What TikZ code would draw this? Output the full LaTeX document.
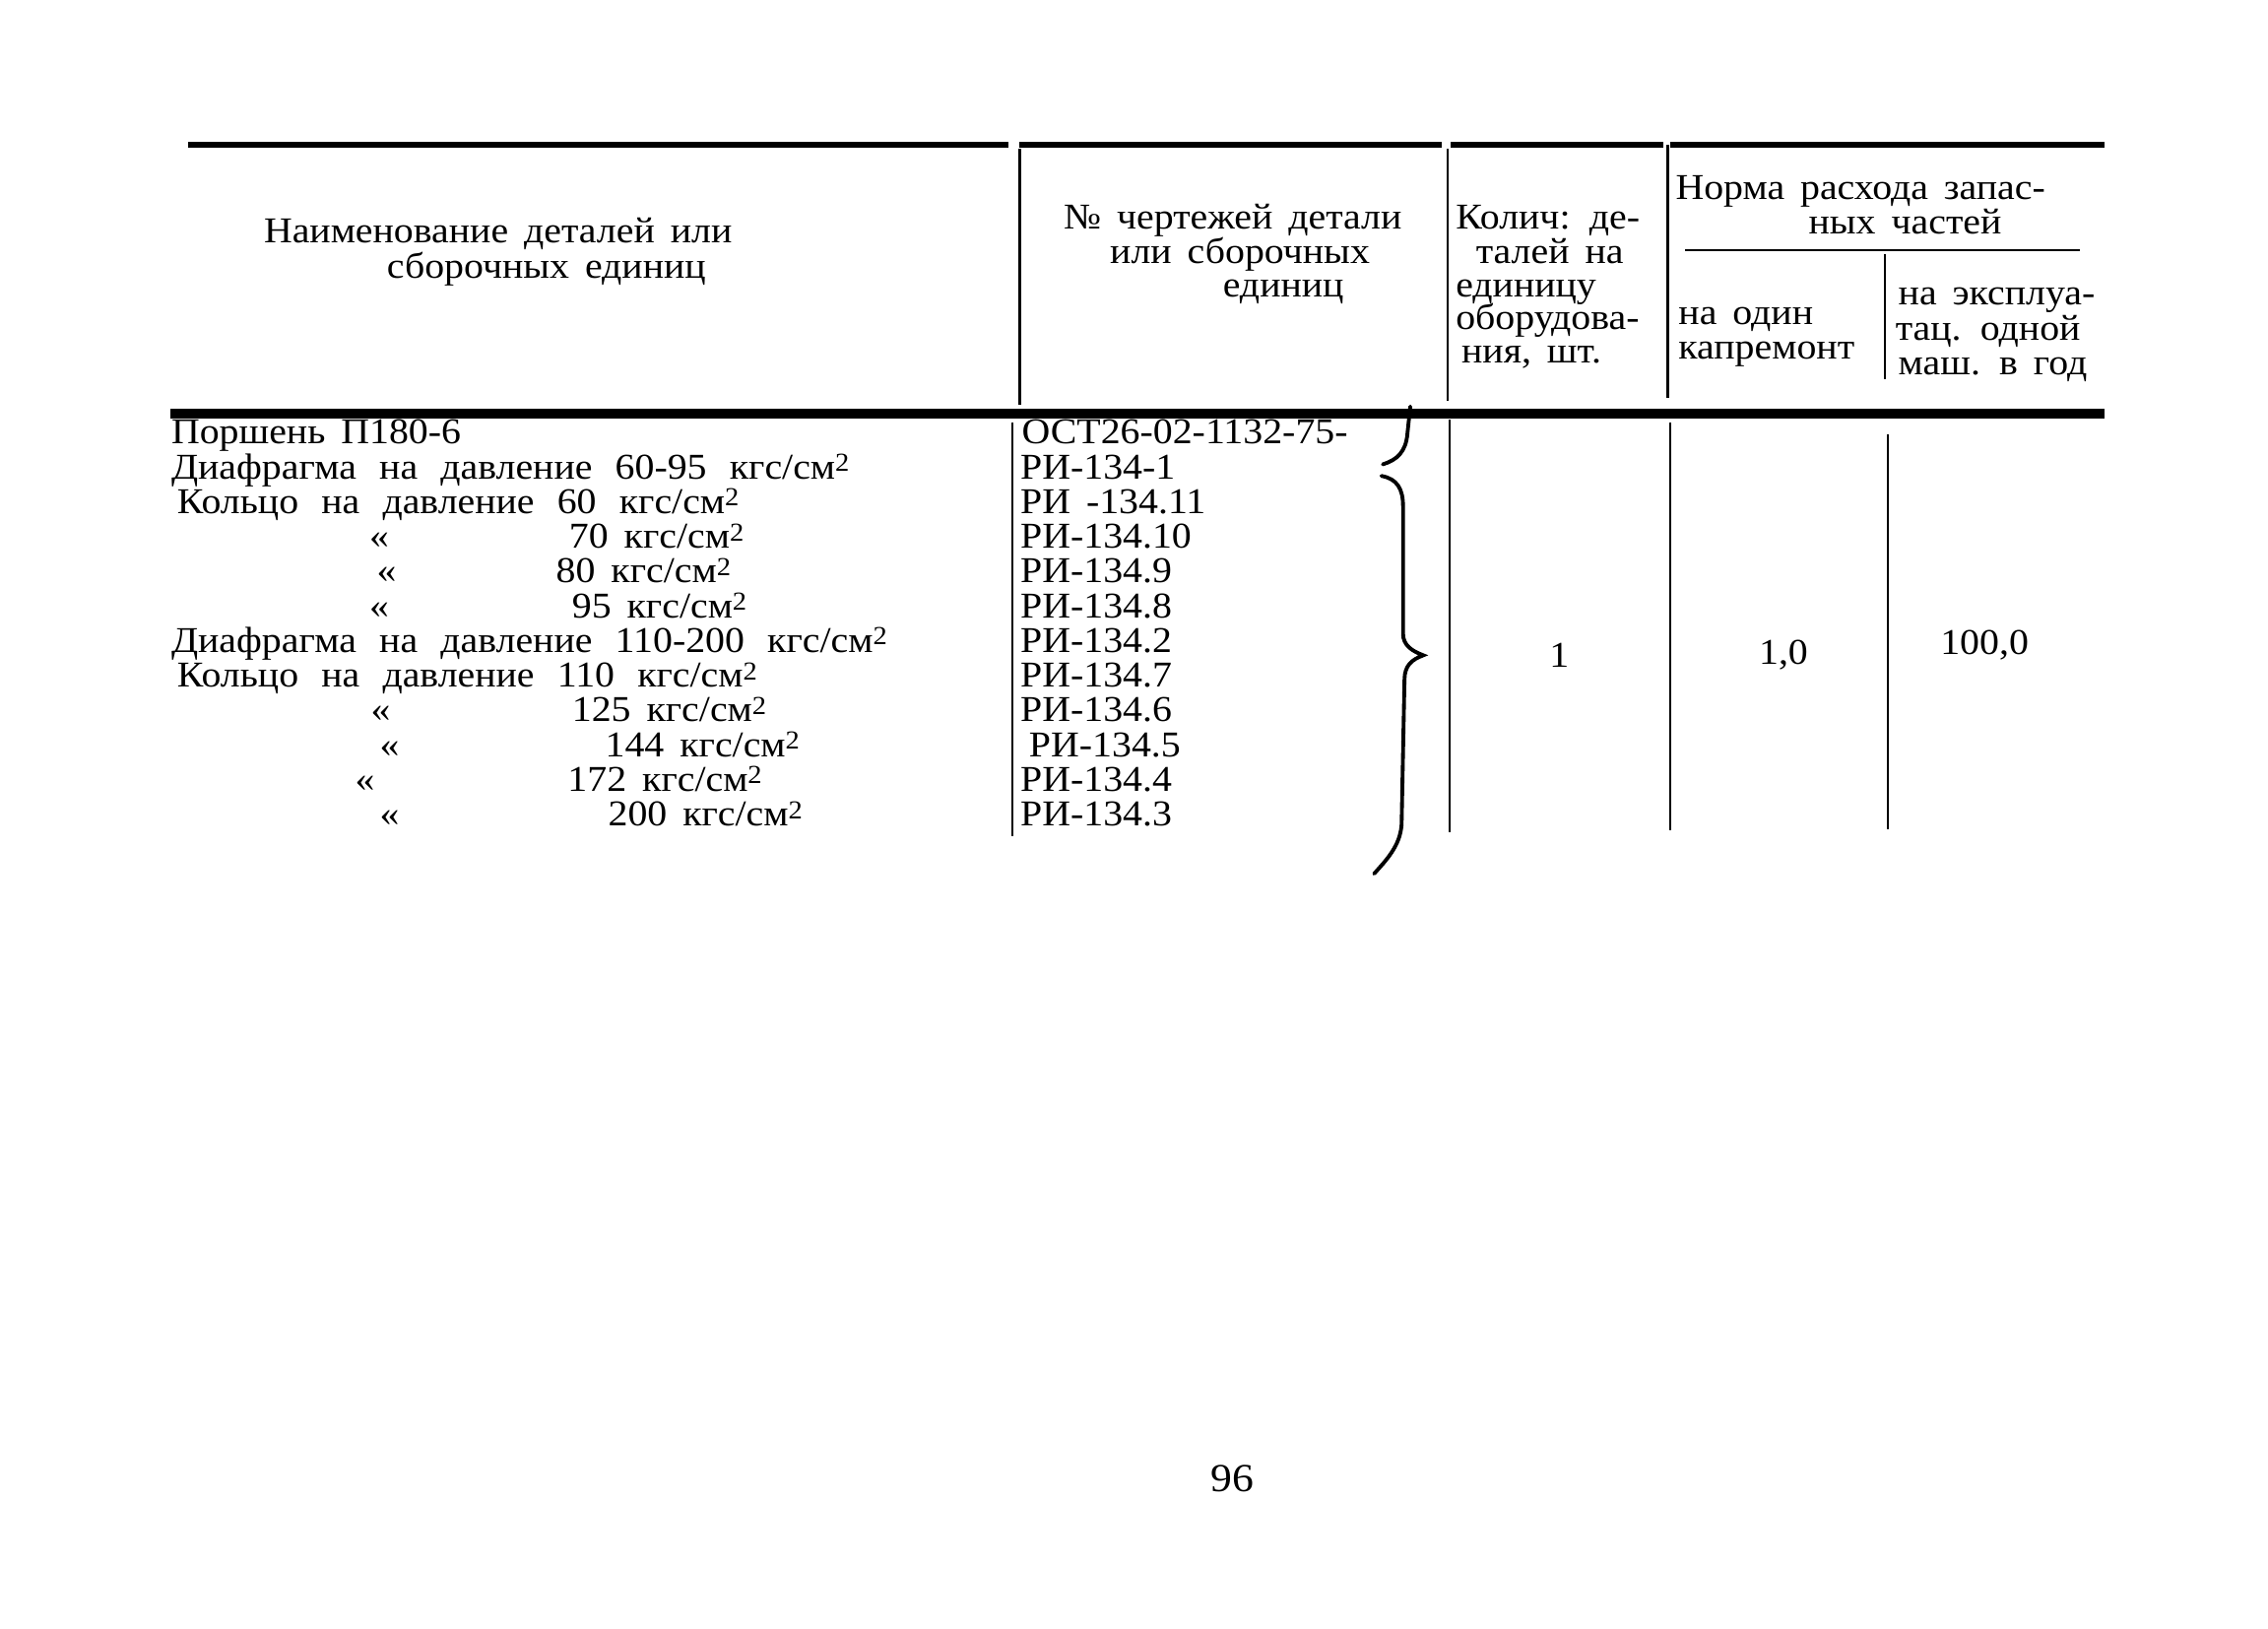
\documentclass[tikz,border=0pt]{standalone}
\usepackage{fontspec}
\setmainfont{Liberation Serif}[FakeStretch=1.08, WordSpace=1.6]
\newcommand{\sqr}{\raisebox{0.45ex}{\fontsize{7.5}{8}\selectfont 2}}
\newcommand{\widespace}{\spaceskip=6.6pt\relax}
\begin{document}
\begin{tikzpicture}[x=0.014688cm, y=-0.014688cm,
    txt/.style={anchor=base west, inner sep=0pt, font=\fontsize{10.5}{11}\selectfont},
    wide/.style={txt, execute at begin node=\widespace},
    num/.style={anchor=center, inner sep=0pt, font=\fontsize{10.5}{11}\selectfont},
    thickrule/.style={line width=1.8pt},
    heavyrule/.style={line width=2.6pt},
    colline/.style={line width=0.6pt},
    brace/.style={line width=1.1pt, line cap=round}]
    \useasboundingbox (0,0) rectangle (1568,1126);

    % top rule (broken at the columns)
    \draw[thickrule] (130,100) -- (697,100);
    \draw[thickrule] (705,100) -- (997,100);
    \draw[thickrule] (1003,100) -- (1150,100);
    \draw[thickrule] (1155,100) -- (1455,100);

    % header columns
    \draw[colline] (705,103) -- (705,280);
    \draw[colline] (1001,103) -- (1001,277);
    \draw[colline] (1153,100) -- (1153,275);
    \draw[colline] (1165,173) -- (1438,173); % under Norma
    \draw[colline] (1303,176) -- (1303,262);

    % header texts
    \node[txt] (hname1) at (182,168) {Наименование деталей или};
    \node[txt] (hname2) at (267,192) {сборочных единиц};
    \node[txt] (hdraw1) at (735,158) {№ чертежей детали};
    \node[txt] (hdraw2) at (767,182) {или сборочных};
    \node[txt] (hdraw3) at (845,205) {единиц};
    \node[txt] (hqty1) at (1006,158) {Колич: де-};
    \node[txt] (hqty2) at (1020,182) {талей на};
    \node[txt] (hqty3) at (1006,205) {единицу};
    \node[txt] (hqty4) at (1006,228) {оборудова-};
    \node[txt] (hqty5) at (1010,251) {ния, шт.};
    \node[txt] (hnorm1) at (1158,138) {Норма расхода запас-};
    \node[txt] (hnorm2) at (1250,162) {ных частей};
    \node[txt] (hrep1) at (1160,224) {на один};
    \node[txt] (hrep2) at (1160,248) {капремонт};
    \node[txt] (hexp1) at (1312,211) {на эксплуа-};
    \node[txt] (hexp2) at (1310,235) {тац. одной};
    \node[txt] (hexp3) at (1312,259) {маш. в год};

    % rule under the header
    \draw[heavyrule] (118,286) -- (1455,286);

    % body columns
    \draw[colline] (700,292) -- (700,578);
    \draw[colline] (1002,290) -- (1002,575);
    \draw[colline] (1155,292) -- (1155,574);
    \draw[colline] (1305,300) -- (1305,573);

    % names of parts
    \node[txt] (part0) at (118,307) {Поршень П180-6};
    \node[wide] (part1) at (118,331) {Диафрагма на давление 60-95 кгс/см\sqr};
    \node[wide] (part2) at (122,355) {Кольцо на давление 60 кгс/см\sqr};
    \node[txt] (ditto3) at (255,379) {«};
    \node[txt] (part3) at (393,379) {70 кгс/см\sqr};
    \node[txt] (ditto4) at (260,403) {«};
    \node[txt] (part4) at (384,403) {80 кгс/см\sqr};
    \node[txt] (ditto5) at (255,427) {«};
    \node[txt] (part5) at (395,427) {95 кгс/см\sqr};
    \node[wide] (part6) at (118,451) {Диафрагма на давление 110-200 кгс/см\sqr};
    \node[wide] (part7) at (122,475) {Кольцо на давление 110 кгс/см\sqr};
    \node[txt] (ditto8) at (256,499) {«};
    \node[txt] (part8) at (395,499) {125 кгс/см\sqr};
    \node[txt] (ditto9) at (262,523) {«};
    \node[txt] (part9) at (418,523) {144 кгс/см\sqr};
    \node[txt] (ditto10) at (245,547) {«};
    \node[txt] (part10) at (392,547) {172 кгс/см\sqr};
    \node[txt] (ditto11) at (262,571) {«};
    \node[txt] (part11) at (420,571) {200 кгс/см\sqr};

    % drawing numbers
    \node[txt] (code0) at (706,307) {ОСТ26-02-1132-75-};
    \node[txt] (code1) at (705,331) {РИ-134-1};
    \node[txt] (code2) at (705,355) {РИ -134.11};
    \node[txt] (code3) at (705,379) {РИ-134.10};
    \node[txt] (code4) at (705,403) {РИ-134.9};
    \node[txt] (code5) at (705,427) {РИ-134.8};
    \node[txt] (code6) at (705,451) {РИ-134.2};
    \node[txt] (code7) at (705,475) {РИ-134.7};
    \node[txt] (code8) at (705,499) {РИ-134.6};
    \node[txt] (code9) at (711,523) {РИ-134.5};
    \node[txt] (code10) at (705,547) {РИ-134.4};
    \node[txt] (code11) at (705,571) {РИ-134.3};

    % braces
    \draw[brace] (975,281) -- (973,300) .. controls (972,312) and (966,318) .. (956,321);
    \draw[brace] (955,329) .. controls (966,331) and (970,338) .. (970,350) -- (970,438)
        .. controls (970,446) and (976,450) .. (984,453)
        .. controls (976,456) and (971,460) .. (971,470) -- (969,570)
        .. controls (968,585) and (958,595) .. (950,604);

    % values
    \node[num] (qty) at (1078,453) {1};
    \node[num] (rep) at (1233,453) {1,0};
    \node[num] (exp) at (1372,446) {100,0};

    % page number
    \node[num, font=\fontsize{11.5}{12}\selectfont] (page) at (852,1022) {96};
\end{tikzpicture}
\end{document}
